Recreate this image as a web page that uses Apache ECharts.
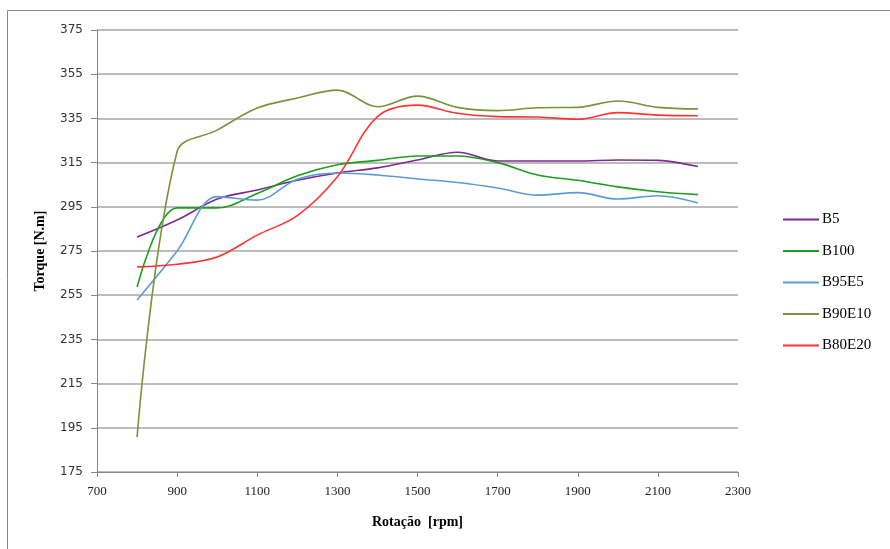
<!DOCTYPE html>
<html>
<head>
<meta charset="utf-8">
<script src="https://cdn.jsdelivr.net/npm/echarts@6/dist/echarts.min.js"></script>
<style>html,body{margin:0;padding:0;background:#fff;}#c{width:890px;height:549px;}</style>
</head>
<body>
<div id="c"></div>
<script>
const rpm = [800, 900, 1000, 1100, 1200, 1300, 1400, 1500, 1600, 1700, 1800, 1900, 2000, 2100, 2200];
const B5     = [281.3, 289.0, 298.5, 302.6, 307.0, 310.3, 312.6, 316.2, 319.7, 315.7, 315.7, 315.7, 316.2, 316.0, 313.2];
const B100   = [258.7, 294.5, 294.5, 301.0, 309.0, 314.0, 316.0, 318.0, 318.0, 315.0, 309.4, 307.0, 304.0, 301.8, 300.5];
const B95E5  = [252.8, 275.0, 299.6, 298.0, 307.5, 310.3, 309.4, 307.6, 306.0, 303.5, 300.3, 301.4, 298.5, 300.0, 296.7];
const B90E10 = [190.8, 320.0, 329.7, 339.7, 344.2, 347.8, 340.3, 345.1, 340.0, 338.5, 339.8, 340.0, 342.9, 340.0, 339.3];
const B80E20 = [267.8, 269.0, 272.3, 282.2, 291.0, 308.6, 335.8, 341.0, 337.3, 335.8, 335.6, 334.6, 337.6, 336.5, 336.2];
const seriesNames = ['B5', 'B100', 'B95E5', 'B90E10', 'B80E20'];
const seriesData = [B5, B100, B95E5, B90E10, B80E20];
const colors = ['#7B2C91', '#1E9E1E', '#5B9BD5', '#77933C', '#FF3333'];

const chart = echarts.init(document.getElementById('c'));
chart.setOption({
  animation: false,
  backgroundColor: '#fff',
  graphic: [
    { type: 'line', shape: { x1: 7.5, y1: 10.5, x2: 890, y2: 10.5 }, style: { stroke: '#888', lineWidth: 1 }, silent: true },
    { type: 'line', shape: { x1: 7.5, y1: 10.5, x2: 7.5, y2: 549 }, style: { stroke: '#888', lineWidth: 1 }, silent: true }
  ],
  grid: { left: 97, right: 152, top: 30, bottom: 77 },
  legend: {
    orient: 'vertical', left: 778, top: 207,
    itemWidth: 36, itemHeight: 14, itemGap: 16.5,
    icon: 'path://M0,6 L36,6 L36,8 L0,8 Z',
    textStyle: { fontFamily: 'Liberation Serif', fontSize: 15, color: '#000', padding: [0, 0, 0, -2] },
    data: seriesNames
  },
  xAxis: {
    type: 'value', min: 700, max: 2300, interval: 200,
    name: 'Rotação  [rpm]', nameLocation: 'middle', nameGap: 43,
    nameTextStyle: { fontFamily: 'Liberation Serif', fontSize: 14, fontWeight: 'bold', color: '#000' },
    axisLine: { lineStyle: { color: '#888', width: 1 } },
    axisTick: { show: true, length: 5, lineStyle: { color: '#888' } },
    axisLabel: { margin: 13, fontFamily: 'Liberation Serif', fontSize: 13, color: '#222', formatter: v => String(v) },
    splitLine: { show: false }
  },
  yAxis: {
    type: 'value', min: 175, max: 375, interval: 20,
    name: 'Torque [N.m]', nameLocation: 'middle', nameGap: 50,
    nameTextStyle: { fontFamily: 'Liberation Serif', fontSize: 14, fontWeight: 'bold', color: '#000' },
    axisLine: { show: true, lineStyle: { color: '#888', width: 1 } },
    axisTick: { show: true, length: 6, lineStyle: { color: '#888' } },
    axisLabel: { margin: 14, fontFamily: 'DejaVu Sans', fontSize: 12, color: '#333', formatter: v => String(v) },
    splitLine: { show: true, lineStyle: { color: '#A6A6A6', width: 1.5 } }
  },
  series: seriesNames.map((n, i) => ({
    name: n, type: 'line', smooth: 0.35, symbol: 'none',
    data: rpm.map((x, j) => [x, seriesData[i][j]]),
    lineStyle: { color: colors[i], width: 1.6 },
    itemStyle: { color: colors[i] }
  }))
});
</script>
</body>
</html>
